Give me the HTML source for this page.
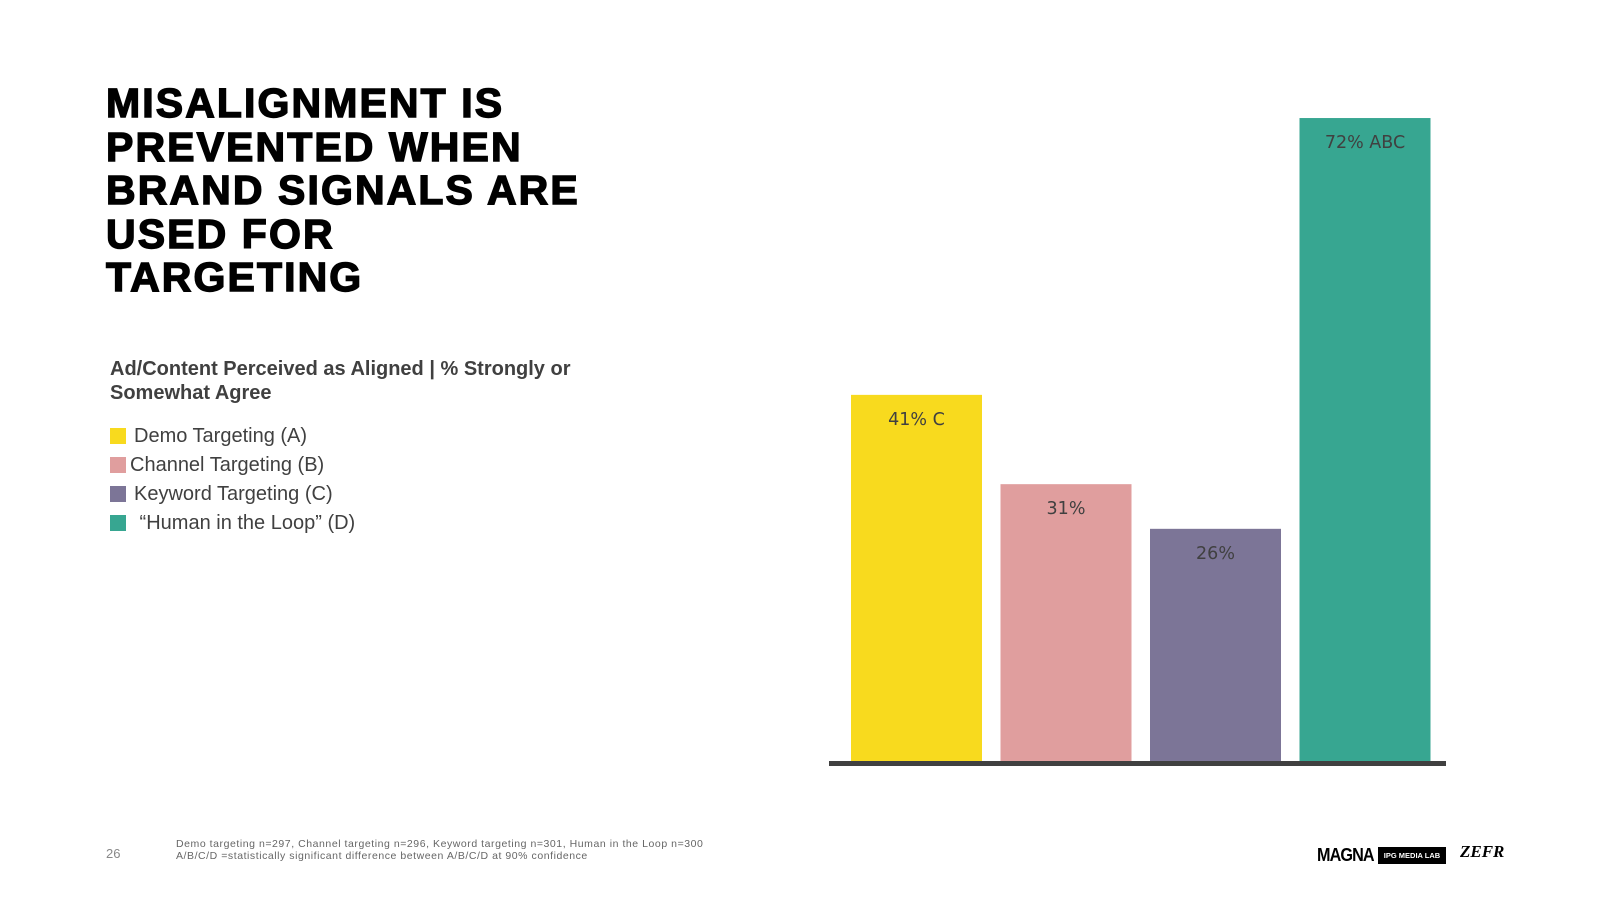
<!DOCTYPE html>
<html><head><meta charset="utf-8"><style>
body{margin:0;width:1600px;height:900px;background:#fff;position:relative;overflow:hidden;font-family:"Liberation Sans",Arial,sans-serif}
.t{position:absolute;white-space:nowrap}
#title{left:106px;top:82px;font-size:41px;font-weight:900;line-height:43.5px;letter-spacing:2.1px;color:#000;-webkit-text-stroke:1.4px #000}
#sub{left:110px;top:357px;font-size:20px;font-weight:bold;color:#404040;line-height:24px}
.leg{position:absolute;left:110px;font-size:20px;color:#404040;height:24px;line-height:24px}
.leg span.sw{display:inline-block;width:16px;height:16px;vertical-align:-2px;margin-right:8px}
</style></head><body>
<div id="title" class="t">MISALIGNMENT IS<br>PREVENTED WHEN<br>BRAND SIGNALS ARE<br>USED FOR<br>TARGETING</div>
<div id="sub" class="t">Ad/Content Perceived as Aligned | % Strongly or<br>Somewhat Agree</div>
<div class="leg" style="top:424px"><span class="sw" style="background:#f8da1e"></span>Demo Targeting (A)</div>
<div class="leg" style="top:453px"><span class="sw" style="background:#e09e9e;margin-right:4px"></span>Channel Targeting (B)</div>
<div class="leg" style="top:482px"><span class="sw" style="background:#7c7597"></span>Keyword Targeting (C)</div>
<div class="leg" style="top:511px"><span class="sw" style="background:#37a691"></span> “Human in the Loop” (D)</div>
<svg id="chart" width="1600" height="900" style="position:absolute;left:0;top:0"></svg>
<div class="t" style="left:106px;top:846px;font-size:13px;color:#888">26</div>
<div class="t" style="left:176px;top:838px;font-size:10.5px;color:#666;line-height:12px;letter-spacing:0.55px">Demo targeting n=297, Channel targeting n=296, Keyword targeting n=301, Human in the Loop n=300<br>A/B/C/D =statistically significant difference between A/B/C/D at 90% confidence</div>
<div class="t" style="left:1317px;top:845px;font-size:18px;font-weight:900;color:#000;letter-spacing:-1px;transform:scaleX(0.9);transform-origin:left">MAGNA</div>
<div class="t" style="left:1378px;top:847px;width:68px;height:17px;background:#000;color:#fff;font-size:7.5px;font-weight:bold;line-height:17px;text-align:center">IPG MEDIA LAB</div>
<div class="t" style="left:1460px;top:842px;font-size:17px;font-weight:900;font-style:italic;font-family:'Liberation Serif',serif;color:#000">ZEFR</div>
<script>
const categories=["Demo Targeting (A)","Channel Targeting (B)","Keyword Targeting (C)","Human in the Loop (D)"];
const values=[41,31,26,72];
const labels=["41% C","31%","26%","72% ABC"];
const colors=["#f8da1e","#e09e9e","#7c7597","#37a691"];
const svg=document.getElementById('chart');const NS="http://www.w3.org/2000/svg";
const base=761,pxPer=8.93,x0=851,bw=131,step=149.5;
const y=v=>base-v*pxPer;
values.forEach((v,i)=>{
 const r=document.createElementNS(NS,'rect');
 r.setAttribute('x',x0+i*step);r.setAttribute('y',y(v));r.setAttribute('width',bw);r.setAttribute('height',base-y(v));r.setAttribute('fill',colors[i]);
 
 
 svg.appendChild(r);
 const t=document.createElementNS(NS,'text');
 t.setAttribute('x',x0+i*step+bw/2);t.setAttribute('y',y(v)+30);t.setAttribute('text-anchor','middle');
 t.setAttribute('font-family','"DejaVu Sans","Liberation Sans",sans-serif');t.setAttribute('font-size','17.5');t.setAttribute('fill','#404040');
 t.textContent=labels[i];
 
 
 svg.appendChild(t);
});
const ax=document.createElementNS(NS,'rect');
ax.setAttribute('x',829);ax.setAttribute('y',base);ax.setAttribute('width',617);ax.setAttribute('height',5);ax.setAttribute('fill','#404040');


svg.appendChild(ax);
</script>
</body></html>
